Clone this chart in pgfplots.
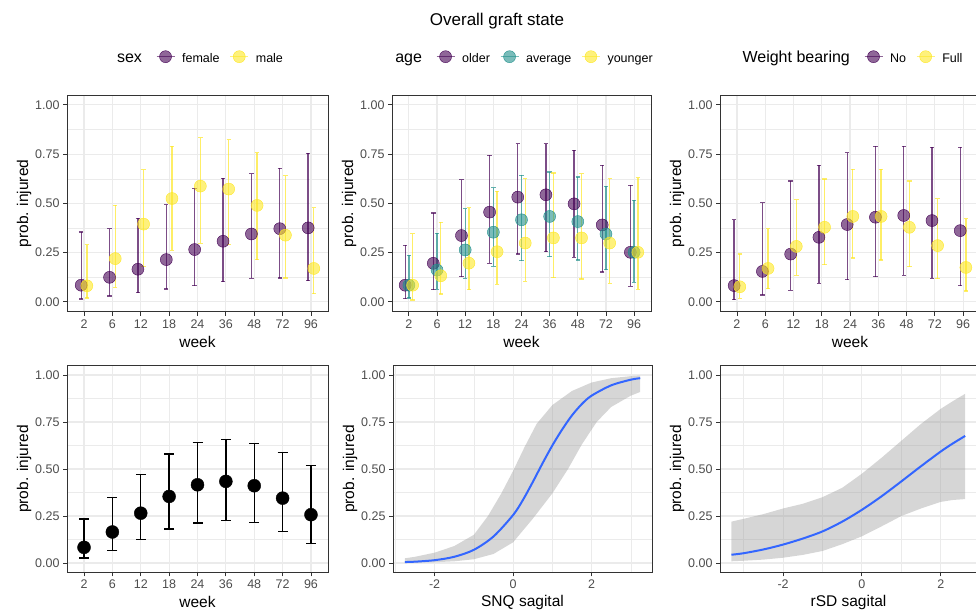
\documentclass[border=0pt]{standalone}
\usepackage{pgfplots}
\usepackage{pgfplotstable}
\usepackage{fontspec}
\setmainfont{Liberation Sans}
\pgfplotsset{compat=1.18}

\definecolor{vpurple}{HTML}{440154}
\definecolor{vteal}{HTML}{21908C}
\definecolor{vyellow}{HTML}{FDE725}
\definecolor{grey20}{HTML}{333333}
\definecolor{grey30}{HTML}{4D4D4D}
\definecolor{gridc}{HTML}{EBEBEB}
\definecolor{fitblue}{HTML}{3366FF}
\definecolor{ribbon}{HTML}{999999}

\newcommand\ticksize{\fontsize{12.5}{14}\selectfont}
\newcommand\labsize{\fontsize{15.5}{18}\selectfont}
\newcommand\legsize{\fontsize{12.5}{15}\selectfont}
\newcommand\legtitle{\fontsize{16}{19}\selectfont}

% week index i = 1..9 stands for weeks 2,6,12,18,24,36,48,72,96
\pgfplotstableread{
i y lo hi
1 0.085 0.015 0.355
2 0.125 0.030 0.372
3 0.166 0.047 0.424
4 0.215 0.066 0.494
5 0.266 0.083 0.576
6 0.308 0.103 0.627
7 0.345 0.120 0.652
8 0.372 0.122 0.678
9 0.376 0.107 0.754
}\sexF
\pgfplotstableread{
i y lo hi
1 0.082 0.020 0.290
2 0.220 0.075 0.490
3 0.395 0.180 0.672
4 0.525 0.262 0.790
5 0.588 0.297 0.834
6 0.573 0.292 0.824
7 0.490 0.214 0.758
8 0.339 0.122 0.640
9 0.170 0.041 0.478
}\sexM
\pgfplotstableread{
i y lo hi
1 0.085 0.017 0.288
2 0.196 0.062 0.451
3 0.337 0.129 0.621
4 0.456 0.196 0.745
5 0.532 0.243 0.804
6 0.544 0.255 0.804
7 0.498 0.226 0.770
8 0.391 0.152 0.694
9 0.252 0.079 0.592
}\ageO
\pgfplotstableread{
i y lo hi
1 0.085 0.020 0.237
2 0.162 0.065 0.349
3 0.264 0.121 0.473
4 0.354 0.180 0.580
5 0.417 0.209 0.643
6 0.434 0.230 0.660
7 0.408 0.213 0.634
8 0.345 0.163 0.587
9 0.252 0.099 0.515
}\ageA
\pgfplotstableread{
i y lo hi
1 0.085 0.010 0.347
2 0.133 0.040 0.405
3 0.197 0.062 0.478
4 0.255 0.090 0.561
5 0.299 0.104 0.626
6 0.325 0.124 0.655
7 0.325 0.116 0.651
8 0.299 0.095 0.626
9 0.252 0.065 0.631
}\ageY
\pgfplotstableread{
i y lo hi
1 0.083 0.012 0.418
2 0.155 0.035 0.503
3 0.243 0.060 0.614
4 0.328 0.094 0.694
5 0.393 0.112 0.758
6 0.430 0.129 0.791
7 0.439 0.136 0.791
8 0.413 0.121 0.784
9 0.362 0.082 0.784
}\wbN
\pgfplotstableread{
i y lo hi
1 0.077 0.019 0.243
2 0.170 0.068 0.371
3 0.282 0.136 0.519
4 0.379 0.189 0.624
5 0.434 0.223 0.673
6 0.434 0.213 0.673
7 0.379 0.179 0.614
8 0.286 0.119 0.524
9 0.175 0.056 0.422
}\wbF
\pgfplotstableread{
i y lo hi
1 0.083 0.027 0.234
2 0.165 0.067 0.349
3 0.265 0.124 0.469
4 0.354 0.181 0.580
5 0.416 0.212 0.641
6 0.434 0.227 0.658
7 0.411 0.216 0.637
8 0.345 0.168 0.588
9 0.257 0.103 0.517
}\overall

\pgfplotsset{
  panel/.style={
    scale only axis,
    axis line style={draw=grey20, line width=0.9pt},
    tick style={draw=grey20, line width=0.9pt},
    tick align=outside, major tick length=4pt, minor tick length=0pt,
    xtick pos=left, ytick pos=left,
    grid=both,
    major grid style={draw=gridc, line width=1.1pt},
    minor grid style={draw=gridc, line width=0.55pt},
    ytick={0,0.25,0.5,0.75,1},
    yticklabels={0.00,0.25,0.50,0.75,1.00},
    minor ytick={0.125,0.375,0.625,0.875},
    ticklabel style={font=\ticksize, text=grey30},
    label style={font=\labsize, text=black},
    ylabel={prob. injured},
    ylabel style={at={([xshift=-43pt]axis description cs:0,0.5)}, anchor=center},
    xlabel style={at={([yshift=-30pt]axis description cs:0.5,0)}, anchor=center},
    legend style={draw=none, fill=none, at={(0.5,1)}, anchor=center, yshift=36pt,
      font=\legsize, text=black, legend columns=-1,
      nodes={text height=9pt, text depth=3pt},
      /tikz/every odd column/.append style={column sep=5pt},
      /tikz/every even column/.append style={column sep=8pt}},
  },
  toprow/.style={panel, width=#1, height=216.7pt, ymin=-0.05, ymax=1.05},
  botrow/.style={panel, width=#1, height=206.8pt, ymin=-0.05, ymax=1.05},
  weekaxis/.style={xmin=0.4, xmax=9.6, xtick={1,...,9},
    xticklabels={2,6,12,18,24,36,48,72,96}, xlabel={week}},
  pr/.style={only marks, mark=*, mark size=6pt, color=#1,
    mark options={draw=none, fill=#1, fill opacity=0.6},
    /pgfplots/error bars/y dir=both, /pgfplots/error bars/y explicit,
    /pgfplots/error bars/error bar style={line width=1.3pt, draw=#1, draw opacity=0.7},
    /pgfplots/error bars/error mark options={rotate=90, mark size=2.2pt, line width=1.2pt, draw=#1, draw opacity=0.7}},
  keyc/.style={legend image code/.code={
    \draw[#1, draw opacity=0.6, line width=1.2pt] (0pt,3pt) -- (18pt,3pt);
    \fill[#1, fill opacity=0.6] (9pt,3pt) circle (6pt);}},
}

\begin{document}
\begin{tikzpicture}
\useasboundingbox (0pt,0pt) rectangle (976pt,615pt);
\clip (0pt,0pt) rectangle (976pt,615pt);

\node[font=\fontsize{17}{20}\selectfont] at (497pt,594pt) {Overall graft state};

% top left: sex
\begin{axis}[toprow=261pt, weekaxis, at={(67pt,303.2pt)}, anchor=south west]
\addlegendimage{empty legend}\addlegendentry{\legtitle sex\hspace*{4pt}}
\addlegendimage{keyc=vpurple}\addlegendentry{female}
\addlegendimage{keyc=vyellow}\addlegendentry{male}
\addplot[pr=vpurple, forget plot] table[x expr=\thisrow{i}-0.1, y=y,
  y error plus expr=\thisrow{hi}-\thisrow{y}, y error minus expr=\thisrow{y}-\thisrow{lo}] {\sexF};
\addplot[pr=vyellow, forget plot] table[x expr=\thisrow{i}+0.1, y=y,
  y error plus expr=\thisrow{hi}-\thisrow{y}, y error minus expr=\thisrow{y}-\thisrow{lo}] {\sexM};
\end{axis}

% top middle: age
\begin{axis}[toprow=259pt, weekaxis, at={(392pt,303.2pt)}, anchor=south west]
\addlegendimage{empty legend}\addlegendentry{\legtitle age\hspace*{4pt}}
\addlegendimage{keyc=vpurple}\addlegendentry{older}
\addlegendimage{keyc=vteal}\addlegendentry{average}
\addlegendimage{keyc=vyellow}\addlegendentry{younger}
\addplot[pr=vpurple, forget plot] table[x expr=\thisrow{i}-0.133, y=y,
  y error plus expr=\thisrow{hi}-\thisrow{y}, y error minus expr=\thisrow{y}-\thisrow{lo}] {\ageO};
\addplot[pr=vteal, forget plot] table[x expr=\thisrow{i}, y=y,
  y error plus expr=\thisrow{hi}-\thisrow{y}, y error minus expr=\thisrow{y}-\thisrow{lo}] {\ageA};
\addplot[pr=vyellow, forget plot] table[x expr=\thisrow{i}+0.133, y=y,
  y error plus expr=\thisrow{hi}-\thisrow{y}, y error minus expr=\thisrow{y}-\thisrow{lo}] {\ageY};
\end{axis}

% top right: weight bearing
\begin{axis}[toprow=260pt, weekaxis, at={(720pt,303.2pt)}, anchor=south west]
\addlegendimage{empty legend}\addlegendentry{\legtitle Weight bearing\hspace*{4pt}}
\addlegendimage{keyc=vpurple}\addlegendentry{No}
\addlegendimage{keyc=vyellow}\addlegendentry{Full}
\addplot[pr=vpurple, forget plot] table[x expr=\thisrow{i}-0.1, y=y,
  y error plus expr=\thisrow{hi}-\thisrow{y}, y error minus expr=\thisrow{y}-\thisrow{lo}] {\wbN};
\addplot[pr=vyellow, forget plot] table[x expr=\thisrow{i}+0.1, y=y,
  y error plus expr=\thisrow{hi}-\thisrow{y}, y error minus expr=\thisrow{y}-\thisrow{lo}] {\wbF};
\end{axis}

% bottom left: overall by week
\begin{axis}[botrow=261pt, weekaxis, at={(67pt,42.6pt)}, anchor=south west]
\addplot[only marks, mark=*, mark size=6.5pt, black,
  error bars/.cd, y dir=both, y explicit,
  error bar style={line width=1.3pt, black},
  error mark options={rotate=90, mark size=5pt, line width=1.3pt, black}]
  table[x=i, y=y,
  y error plus expr=\thisrow{hi}-\thisrow{y}, y error minus expr=\thisrow{y}-\thisrow{lo}] {\overall};
\end{axis}

% bottom middle: SNQ sagital
\begin{axis}[botrow=259pt, at={(393pt,42.6pt)}, anchor=south west,
  xmin=-3.06, xmax=3.54, xtick={-2,0,2}, xticklabels={-2,0,2},
  minor xtick={-3,-1,1,3}, xlabel={SNQ sagital}]
\addplot[fill=ribbon, fill opacity=0.4, draw=none] coordinates {
  (-2.76,0.025) (-2.5,0.033) (-2,0.055) (-1.5,0.09) (-1,0.15) (-0.64,0.25)
  (-0.3,0.37) (0,0.49) (0.3,0.62) (0.6,0.74) (1,0.84) (1.5,0.915) (2,0.96)
  (2.5,0.983) (3,0.994) (3.24,0.997)
  (3.24,0.91) (3,0.89) (2.5,0.83) (2.13,0.75) (1.75,0.63) (1.4,0.5) (1,0.37)
  (0.5,0.235) (0,0.11) (-0.5,0.048) (-1,0.02) (-1.5,0.009) (-2,0.004) (-2.76,0.001)};
\addplot[fitblue, line width=2pt, smooth] coordinates {
  (-2.76,0.005) (-2.5,0.007) (-2,0.015) (-1.5,0.033) (-1,0.07) (-0.5,0.141)
  (0,0.255) (0.25,0.335) (0.5,0.43) (0.75,0.53) (1,0.625) (1.25,0.71)
  (1.5,0.785) (1.75,0.845) (2,0.89) (2.5,0.945) (3,0.975) (3.24,0.983)};
\end{axis}

% bottom right: rSD sagital
\begin{axis}[botrow=257pt, at={(720pt,42.6pt)}, anchor=south west,
  xmin=-3.6, xmax=2.92, xtick={-2,0,2}, xticklabels={-2,0,2},
  minor xtick={-3,-1,1}, xlabel={rSD sagital}]
\addplot[fill=ribbon, fill opacity=0.4, draw=none] coordinates {
  (-3.31,0.22) (-3,0.235) (-2.5,0.26) (-2,0.29) (-1.5,0.315) (-1,0.35)
  (-0.5,0.40) (0,0.475) (0.5,0.56) (1,0.65) (1.5,0.74) (2,0.82) (2.3,0.86) (2.62,0.90)
  (2.62,0.34) (2.3,0.335) (2,0.325) (1.5,0.29) (1,0.25) (0.5,0.195) (0,0.142)
  (-0.5,0.1) (-1,0.064) (-1.5,0.043) (-2,0.028) (-2.5,0.018) (-3,0.012) (-3.31,0.009)};
\addplot[fitblue, line width=2pt, smooth] coordinates {
  (-3.31,0.044) (-3,0.052) (-2.5,0.072) (-2,0.098) (-1.5,0.13) (-1,0.168)
  (-0.5,0.22) (0,0.283) (0.5,0.355) (1,0.434) (1.5,0.515) (2,0.593) (2.3,0.635) (2.62,0.676)};
\end{axis}
\end{tikzpicture}
\end{document}
